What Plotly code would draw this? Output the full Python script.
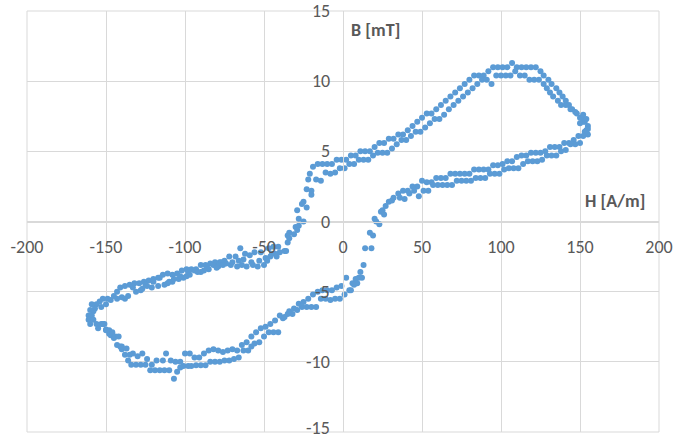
import plotly.graph_objects as go

# ---- data (H [A/m], B [mT]), grouped by segment ----
upper_a_H = [-19,-16,-13,-10,-7,-4,-1,2,5,8,11,14,17,20,23,26,29,32,35,38,41,44,47,50,53,56,59,62,65,68,71,74,77,80,83,86,89,92,95,98,101,104,107,110,113,116,119,122,125,127,130,132,135,137,139,141,143,145,148,151,153,155]
upper_a_B = [3.9,4.1,4.1,4.1,4.1,4.4,4.4,4.4,4.7,4.7,5.0,5.0,5.0,5.3,5.6,5.6,5.9,5.9,6.2,6.2,6.5,6.8,7.1,7.4,7.7,7.7,8.0,8.3,8.6,8.9,9.2,9.5,9.8,10.1,10.4,10.4,10.4,10.7,11.0,11.0,11.0,11.0,11.3,11.0,11.0,11.0,11.0,11.0,10.7,10.4,10.1,9.8,9.5,9.2,8.9,8.6,8.3,8.0,7.7,7.4,7.1,6.8]

upper_b_H = [-17,-14,-11,-8,-5,-2,1,4,7,10,13,16,19,22,25,28,31,34,37,40,43,46,49,52,55,58,61,64,67,70,73,76,79,82,85,88,91,94,97,100,103,106,109,112,115,118,121,124,127,129,131,133,136,138,141,144,147,150,152,154,155]
upper_b_B = [3.0,2.9,3.5,3.4,3.5,3.8,3.8,4.1,4.1,4.4,4.4,4.4,4.7,4.9,4.9,4.9,5.2,5.5,5.8,5.8,6.1,6.4,6.4,6.7,7.0,7.3,7.3,7.6,8.0,8.3,8.6,8.9,9.2,9.5,9.8,10.1,10.1,9.8,10.4,10.4,10.4,10.4,10.7,10.4,10.4,10.1,10.1,10.1,9.8,9.5,9.2,8.9,8.6,8.3,8.3,8.0,7.8,7.4,7.1,6.5,6.2]

tip_right_H = [154,155,153,152,150]
tip_right_B = [7.3,6.6,6.4,7.6,7.0]

steep_down_H = [-21,-22,-23,-20,-20,-25,-23,-26,-29,-28,-25,-30,-28,-29,-31,-34,-35,-34,-35]
steep_down_B = [3.4,3.0,2.3,2.2,1.9,1.4,1.0,1.25,0.8,0.2,0.0,-0.4,-0.3,-0.6,-0.9,-0.8,-1.0,-1.2,-1.5]

left_a_H = [-37,-41,-44,-47,-52,-56,-59,-62,-65,-68,-72,-75,-78,-81,-84,-87,-90,-93,-96,-99,-102,-105,-108,-111,-114,-117,-120,-123,-126,-129,-132,-135,-138,-141,-143]
left_a_B = [-2.1,-1.8,-1.8,-1.9,-2.2,-2.2,-2.4,-2.3,-1.9,-2.5,-2.5,-2.8,-2.9,-2.9,-3.0,-3.1,-3.1,-3.4,-3.4,-3.4,-3.5,-3.7,-3.8,-3.7,-3.8,-4.0,-4.1,-4.2,-4.3,-4.4,-4.4,-4.5,-4.6,-4.7,-5.0]

left_b_H = [-36,-40,-42,-45,-48,-50,-54,-57,-61,-64,-67,-71,-74,-77,-79,-82,-85,-88,-90,-94,-97,-99,-101,-104,-108,-111,-113,-117,-121,-125,-128,-131,-133,-136,-138,-140]
left_b_B = [-2.1,-2.2,-2.5,-2.3,-2.8,-3.1,-3.2,-3.1,-3.2,-3.1,-3.2,-3.1,-3.0,-2.9,-3.2,-3.1,-3.4,-3.5,-3.6,-3.5,-3.8,-3.9,-4.0,-4.1,-4.3,-4.4,-4.5,-4.6,-4.7,-4.5,-4.9,-5.0,-4.7,-5.3,-5.5,-5.4]

left_c_H = [-43,-46,-49,-53,-58,-63,-66,-70,-76,-80,-86,-92,-98,-103,-107,-110,-116,-120,-124,-127]
left_c_B = [-2.3,-2.5,-2.6,-2.8,-2.9,-2.7,-2.8,-2.9,-3.1,-3.3,-3.3,-3.6,-3.6,-3.9,-4.1,-4.3,-4.0,-4.3,-4.6,-4.8]

tip_left_H = [-145,-143,-147,-149,-152,-150,-154,-156,-153,-157,-159,-158,-160,-161,-160,-159,-161,-160,-158,-156,-155,-153,-151,-150]
tip_left_B = [-5.3,-5.5,-5.6,-5.5,-5.5,-5.9,-5.7,-5.9,-6.1,-6.2,-5.9,-6.4,-6.3,-6.7,-6.9,-6.7,-7.0,-7.3,-7.0,-7.3,-7.6,-7.3,-7.3,-7.7]

lower_a_H = [-148,-147,-145,-143,-141,-140,-138,-136,-134,-131,-128,-125,-122,-119,-116,-113,-110,-107,-105,-103,-101,-98,-96,-93,-90,-87,-84,-81,-78,-75,-72,-69,-66,-63,-60,-58,-56,-53,-50,-47,-44,-41,-38,-35,-32,-29,-26,-23,-20,-17,-14,-11,-8,-5,-2,1,4,6]
lower_a_B = [-8.0,-8.1,-8.3,-8.8,-8.9,-9.1,-9.5,-9.9,-10.2,-10.2,-10.2,-10.2,-10.6,-10.6,-10.6,-10.6,-10.6,-11.2,-10.7,-10.4,-10.3,-10.3,-10.3,-10.25,-10.25,-10.25,-10.0,-10.0,-10.0,-9.9,-9.9,-9.8,-9.7,-9.2,-9.2,-8.9,-8.7,-8.6,-8.2,-7.9,-7.9,-7.9,-6.9,-6.6,-6.6,-6.3,-6.1,-6.1,-6.1,-6.1,-5.5,-5.5,-5.6,-5.5,-5.5,-5.2,-4.9,-4.4]

lower_b_H = [-152,-150,-148,-146,-144,-142,-140,-137,-135,-133,-130,-127,-124,-121,-118,-114,-112,-109,-106,-103,-100,-97,-94,-91,-88,-85,-82,-79,-76,-73,-70,-67,-64,-61,-58,-55,-52,-49,-46,-43,-40,-37,-34,-31,-28,-25,-22,-19,-16,-13,-10,-7,-4,-1,2]
lower_b_B = [-7.3,-7.75,-7.75,-7.9,-8.2,-8.2,-8.9,-9.05,-9.5,-9.4,-9.6,-9.4,-9.8,-10.2,-9.9,-9.9,-9.4,-9.9,-10.0,-10.0,-9.4,-9.4,-9.7,-9.7,-9.4,-9.2,-9.1,-9.2,-9.3,-9.2,-9.1,-9.2,-8.8,-8.6,-8.2,-7.9,-7.6,-7.5,-7.3,-7.05,-6.7,-6.8,-6.4,-6.2,-5.86,-5.74,-5.5,-5.2,-5.0,-4.9,-4.9,-4.9,-4.7,-4.6,-4.0]

steep_up_H = [8,10,12,9,7,5,11,13,14,18,17,19,20,23,21,25,26,24,27,29,31]
steep_up_B = [-4.1,-4.0,-4.0,-4.4,-4.5,-4.9,-3.6,-3.1,-1.9,-1.9,-0.8,-1.0,0.2,-0.2,0.0,0.8,0.5,0.7,1.1,1.4,1.5]

right_a_H = [152,149,146,143,140,137,134,131,128,125,122,119,116,113,110,107,104,101,98,95,92,89,86,83,80,77,74,71,68,65,62,59,56,53,50,47,44,41,38,35,32]
right_a_B = [6.1,6.1,5.8,5.6,5.6,5.3,5.3,5.3,5.0,4.9,4.9,4.9,4.7,4.7,4.6,4.3,4.3,4.1,4.0,4.0,3.7,3.7,3.7,3.7,3.4,3.4,3.4,3.4,3.4,3.1,3.1,3.1,2.8,2.8,2.9,2.5,2.5,2.2,2.2,2.0,1.7]

right_b_H = [150,147,144,141,138,135,132,129,126,123,120,117,114,111,108,105,102,99,96,93,90,87,84,81,78,75,72,69,66,63,60,57,54,51,48,45,42,39,36]
right_b_B = [5.6,5.5,5.5,5.1,5.0,4.7,4.7,4.7,4.4,4.3,4.3,4.3,4.1,3.8,3.8,3.8,3.7,3.4,3.4,3.4,3.1,3.1,3.1,2.9,2.9,2.9,2.9,2.6,2.6,2.6,2.6,2.6,2.2,2.2,1.8,2.2,2.0,1.6,1.7]

x_ticks = [-200, -150, -100, -50, 0, 50, 100, 150, 200]
x_tick_text = ["-200", "-150", "-100", "-50", "0", "50", "100", "150", "200"]
y_ticks = [-15, -10, -5, 0, 5, 10, 15]
y_tick_text = ["-15", "-10", "-5", "0", "5", "10", "15"]

H = (upper_a_H + upper_b_H + tip_right_H + steep_down_H + left_a_H + left_b_H + left_c_H
     + tip_left_H + lower_a_H + lower_b_H + steep_up_H + right_a_H + right_b_H)
B = (upper_a_B + upper_b_B + tip_right_B + steep_down_B + left_a_B + left_b_B + left_c_B
     + tip_left_B + lower_a_B + lower_b_B + steep_up_B + right_a_B + right_b_B)

FONT = "Calibri, Carlito, 'Open Sans', sans-serif"
GRID = "#d9d9d9"
TXT = "#595959"
FS = 18

L, R, T, Bm = 27, 27, 11, 6
W, Ht = 686, 438
pw, ph = W - L - R, Ht - T - Bm

fig = go.Figure()
fig.add_trace(go.Scatter(
    x=H, y=B, mode="markers",
    marker=dict(size=6, color="#5B9BD5", line=dict(width=0)),
    hoverinfo="x+y", showlegend=False,
))

# y tick labels sit beside the vertical axis through H = 0 (Excel-style crossing axes);
# the lowest one is nudged up a little so it stays inside the page
ytick_annots = [
    dict(text=t, x=0, y=v, xref="x", yref="y", xanchor="right", yanchor="middle",
         xshift=-11, yshift=(4 if v == min(y_ticks) else 0), showarrow=False,
         font=dict(family=FONT, size=FS, color=TXT))
    for v, t in zip(y_ticks, y_tick_text)
]

fig.update_layout(
    width=W, height=Ht,
    margin=dict(l=L, r=R, t=T, b=Bm, autoexpand=False),
    paper_bgcolor="white", plot_bgcolor="white",
    font=dict(family=FONT, size=FS, color=TXT),
    xaxis=dict(
        range=[-200, 200], tickmode="array", tickvals=x_ticks, ticktext=x_tick_text,
        showgrid=True, gridcolor=GRID, gridwidth=1,
        zeroline=False, showline=True, linecolor=GRID, linewidth=1,
        anchor="free", position=0.5, ticklabeloverflow="allow", automargin=False,
        ticks="outside", ticklen=9, tickcolor="rgba(0,0,0,0)",
        tickfont=dict(family=FONT, size=FS, color=TXT),
    ),
    yaxis=dict(
        range=[-15, 15], tickmode="array", tickvals=y_ticks,
        showticklabels=False,
        showgrid=True, gridcolor=GRID, gridwidth=1,
        zeroline=False, showline=True, linecolor=GRID, linewidth=1,
        anchor="free", position=0.5, automargin=False,
        ticks="",
    ),
    shapes=[dict(type="rect", xref="paper", yref="paper", x0=0, y0=0, x1=1, y1=1,
                 line=dict(color=GRID, width=1), layer="below")],
    annotations=ytick_annots + [
        dict(text="<b>B [mT]</b>", xref="paper", yref="paper",
             x=(375 - L) / pw, y=1 - (30 - T) / ph, xanchor="center", yanchor="middle",
             showarrow=False, font=dict(family=FONT, size=FS, color=TXT)),
        dict(text="<b>H [A/m]</b>", xref="paper", yref="paper",
             x=(615 - L) / pw, y=1 - (201 - T) / ph, xanchor="center", yanchor="middle",
             showarrow=False, font=dict(family=FONT, size=FS, color=TXT)),
    ],
)

fig.write_html("out.html")
